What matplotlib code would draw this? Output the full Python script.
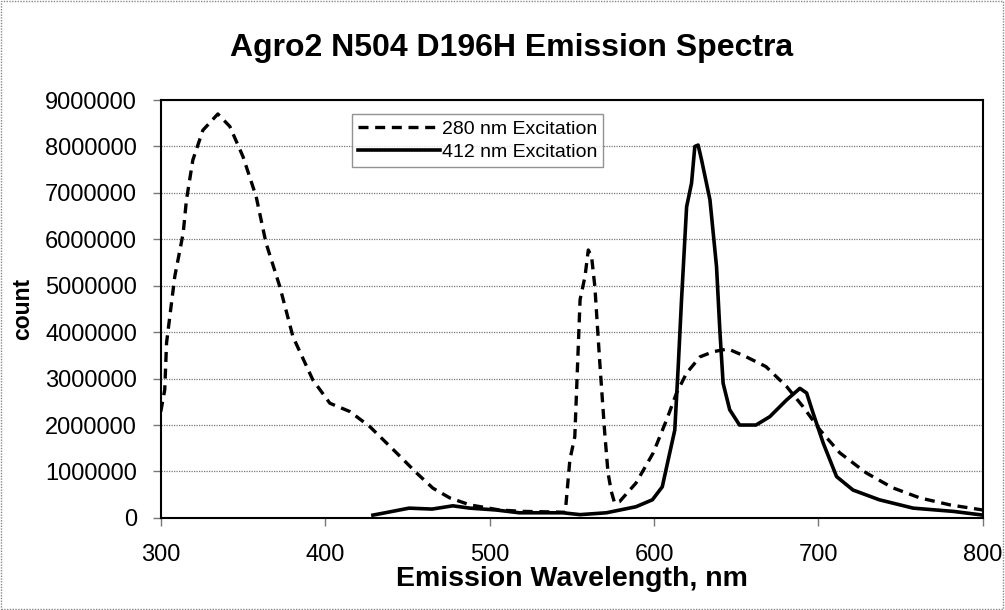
import matplotlib
matplotlib.use("Agg")
import matplotlib.pyplot as plt
from matplotlib.patches import Rectangle

# 280 nm excitation (nm, count)
wl_280 = [300, 302.4, 303.5, 308.5, 313.6, 315.6, 319.5, 325.6, 334.7, 342, 350,
          358, 364, 372.4, 380.4, 392.5, 402.8, 415, 427, 443.4, 455.5, 465.5,
          475.8, 488, 506, 520, 535, 546, 548.8, 551.8, 555, 558, 560, 562, 564,
          567, 570, 572, 574, 576, 579, 589, 599.5, 607.6, 613.7, 619.8, 628,
          636, 645, 656, 668, 680.6, 690.5, 701, 713, 729, 745, 761.7, 780, 800]
cnt_280 = [2.29e6, 2.76e6, 3.77e6, 5.2e6, 6.13e6, 6.85e6, 7.71e6, 8.35e6, 8.70e6,
           8.43e6, 7.78e6, 6.92e6, 5.92e6, 4.98e6, 3.90e6, 2.97e6, 2.47e6,
           2.29e6, 1.97e6, 1.40e6, 0.97e6, 0.64e6, 0.43e6, 0.28e6, 0.17e6,
           0.14e6, 0.13e6, 0.12e6, 1.25e6, 1.75e6, 4.7e6, 5.2e6, 5.77e6, 5.63e6,
           4.98e6, 3.34e6, 1.83e6, 0.97e6, 0.57e6, 0.32e6, 0.35e6, 0.75e6,
           1.40e6, 2.11e6, 2.69e6, 3.12e6, 3.47e6, 3.58e6, 3.64e6, 3.47e6,
           3.26e6, 2.83e6, 2.40e6, 1.89e6, 1.40e6, 0.97e6, 0.65e6, 0.43e6,
           0.28e6, 0.17e6]

# 412 nm excitation
wl_412 = [429, 435, 451, 465, 477.6, 488, 504, 518, 544.5, 555, 571, 589, 599,
          605, 608.6, 612.6, 614.7, 616.7, 619.8, 622.8, 624.8, 626.8, 628.9,
          634, 638, 640, 642, 646, 652, 662, 670.4, 680.6, 688.7, 692.8, 696.8,
          702.9, 711, 721, 737, 757.6, 782, 800]
cnt_412 = [0.06e6, 0.10e6, 0.21e6, 0.19e6, 0.26e6, 0.21e6, 0.17e6, 0.11e6,
           0.11e6, 0.07e6, 0.11e6, 0.24e6, 0.39e6, 0.67e6, 1.25e6, 1.89e6,
           3.26e6, 4.69e6, 6.70e6, 7.21e6, 8.0e6, 8.03e6, 7.71e6, 6.85e6,
           5.41e6, 4.05e6, 2.90e6, 2.33e6, 2.0e6, 2.0e6, 2.18e6, 2.54e6, 2.79e6,
           2.69e6, 2.25e6, 1.61e6, 0.89e6, 0.60e6, 0.39e6, 0.21e6, 0.14e6, 0.06e6]

x_ticks = [300, 400, 500, 600, 700, 800]
y_ticks = [0, 1000000, 2000000, 3000000, 4000000, 5000000, 6000000, 7000000, 8000000, 9000000]

plt.rcParams['font.family'] = ['Liberation Sans', 'DejaVu Sans']

fig = plt.figure(figsize=(10.05, 6.10), dpi=100)
ax = fig.add_axes([0.160, 0.151, 0.818, 0.685])

# outer chart border
fig.patches.append(Rectangle((0.001, 0.002), 0.997, 0.996, transform=fig.transFigure,
                             fill=False, ec="#888888", lw=1, ls=(0, (1, 1))))

ax.plot(wl_280, cnt_280, color="black", lw=2.4, ls=(0, (3, 2)), label="280 nm Excitation")
ax.plot(wl_412, cnt_412, color="black", lw=2.6, label="412 nm Excitation")

ax.set_xlim(300, 800)
ax.set_ylim(0, 9000000)
ax.set_xticks(x_ticks)
ax.set_yticks(y_ticks)
ax.set_yticklabels([str(v) for v in y_ticks])
ax.yaxis.grid(True, color="#777777", lw=0.9, ls=(0, (1, 1)))
ax.set_axisbelow(True)
for s in ax.spines.values():
    s.set_linewidth(1.5)
ax.tick_params(axis="both", direction="out", length=6, width=1, color="#777777",
               labelsize=17)
ax.tick_params(axis="x", pad=13)
ax.tick_params(axis="y", pad=11)

# title is centred over the whole figure, not the plot area
fig.text(0.509, 0.922, "Agro2 N504 D196H Emission Spectra", fontsize=23,
         fontweight="bold", ha="center", va="center")
ax.set_xlabel("Emission Wavelength, nm", fontsize=20.5, fontweight="bold", labelpad=0)
ax.set_ylabel("count", fontsize=16.5, fontweight="bold", labelpad=8)

leg = ax.legend(loc="upper left", bbox_to_anchor=(0.233, 0.966), fontsize=14,
                frameon=True, fancybox=False, handlelength=4.2, handletextpad=0.1,
                borderpad=0.3, labelspacing=0.3, borderaxespad=0)
leg.get_frame().set_edgecolor("#777777")
leg.get_frame().set_linewidth(1)

fig.savefig("out.png", dpi=100)
